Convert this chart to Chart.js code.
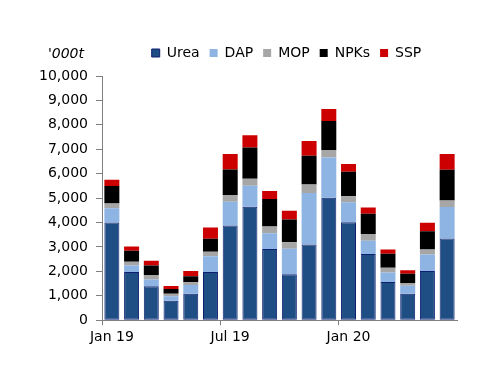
<!DOCTYPE html>
<html>
<head>
<meta charset="utf-8">
<script src="https://cdn.jsdelivr.net/npm/chart.js@4.4.0/dist/chart.umd.min.js"></script>
<style>
html,body{margin:0;padding:0;background:#fff;}
#wrap{width:500px;height:386px;position:relative;}
</style>
</head>
<body>
<div id="wrap"><canvas id="c" width="500" height="386"></canvas></div>
<script>
const months = ["Jan 19","Feb 19","Mar 19","Apr 19","May 19","Jun 19","Jul 19","Aug 19","Sep 19","Oct 19","Nov 19","Dec 19","Jan 20","Feb 20","Mar 20","Apr 20","May 20","Jun 20"];
const urea = [4000,1970,1390,800,1080,1970,3880,4650,2920,1880,3100,5010,4010,2710,1560,1080,2010,3350];
const dap  = [580,270,280,180,360,650,970,860,640,1050,2110,1650,820,540,390,330,680,1290];
const mop  = [200,150,180,100,110,180,280,280,280,260,350,310,250,280,200,110,210,260];
const npks = [720,450,390,200,250,540,1040,1280,1120,930,1170,1190,1000,830,570,380,740,1260];
const ssp  = [250,180,190,120,210,460,640,500,330,360,610,490,320,260,180,150,350,650];
const yTicksMax = 10000;
const yStep = 1000;
const unitLabel = "'000t";

const FONT = "'DejaVu Sans', sans-serif";
const unitPlugin = {
  id: 'unitLabel',
  afterLayout(chart) {
    const lg = chart.legend;
    if (lg) { lg.left += 58; lg.right += 58; lg.top -= 6; lg.bottom -= 6; }
  },
  afterDraw(chart) {
    const ctx = chart.ctx;
    const ys = chart.scales.y;
    ctx.save();
    ctx.font = "italic 14px " + FONT;
    ctx.fillStyle = '#000';
    ctx.textAlign = 'right';
    ctx.textBaseline = 'middle';
    ctx.fillText(unitLabel, ys.right - 18, ys.top - 22);
    ctx.restore();
  }
};

function ds(label, data, color, border) {
  return {label, data, backgroundColor: color, borderColor: border || color, borderWidth: border ? 1 : 0, borderSkipped: false,
          barPercentage: 0.76, categoryPercentage: 1.0};
}

new Chart(document.getElementById('c'), {
  type: 'bar',
  data: {
    labels: months,
    datasets: [
      ds('Urea', urea, '#1f4e85', '#0d1f70'),
      ds('DAP', dap, '#8db4e2'),
      ds('MOP', mop, '#a6a6a6'),
      ds('NPKs', npks, '#000000'),
      ds('SSP', ssp, '#cc0000')
    ]
  },
  options: {
    responsive: false,
    animation: false,
    devicePixelRatio: 1,
    layout: {padding: {top: 42, right: 43, bottom: 36, left: 0}},
    plugins: {
      legend: {
        position: 'top',
        labels: {boxWidth: 8, boxHeight: 8, padding: 10, color: '#000', font: {family: FONT, size: 14}}
      },
      tooltip: {enabled: false}
    },
    scales: {
      x: {
        stacked: true,
        offset: true,
        grid: {
          offset: true, drawOnChartArea: false, drawTicks: true, tickLength: 5,
          color: (c) => (c.index % 6 === 0 ? '#808080' : 'rgba(0,0,0,0)')
        },
        border: {color: '#808080', width: 1},
        ticks: {
          autoSkip: false, maxRotation: 0, padding: 4, color: '#000',
          font: {family: FONT, size: 14},
          callback: function(v, i) { return i % 6 === 0 ? months[i] : ''; }
        }
      },
      y: {
        stacked: true,
        min: 0, max: yTicksMax,
        afterFit: (s) => { s.width = 102; },
        grid: {drawOnChartArea: false, drawTicks: true, tickLength: 6, color: '#808080'},
        border: {color: '#808080', width: 1},
        ticks: {stepSize: yStep, padding: 8, color: '#000', font: {family: FONT, size: 14},
          callback: (v) => v.toLocaleString('en-US')}
      }
    }
  },
  plugins: [unitPlugin]
});
</script>
</body>
</html>
